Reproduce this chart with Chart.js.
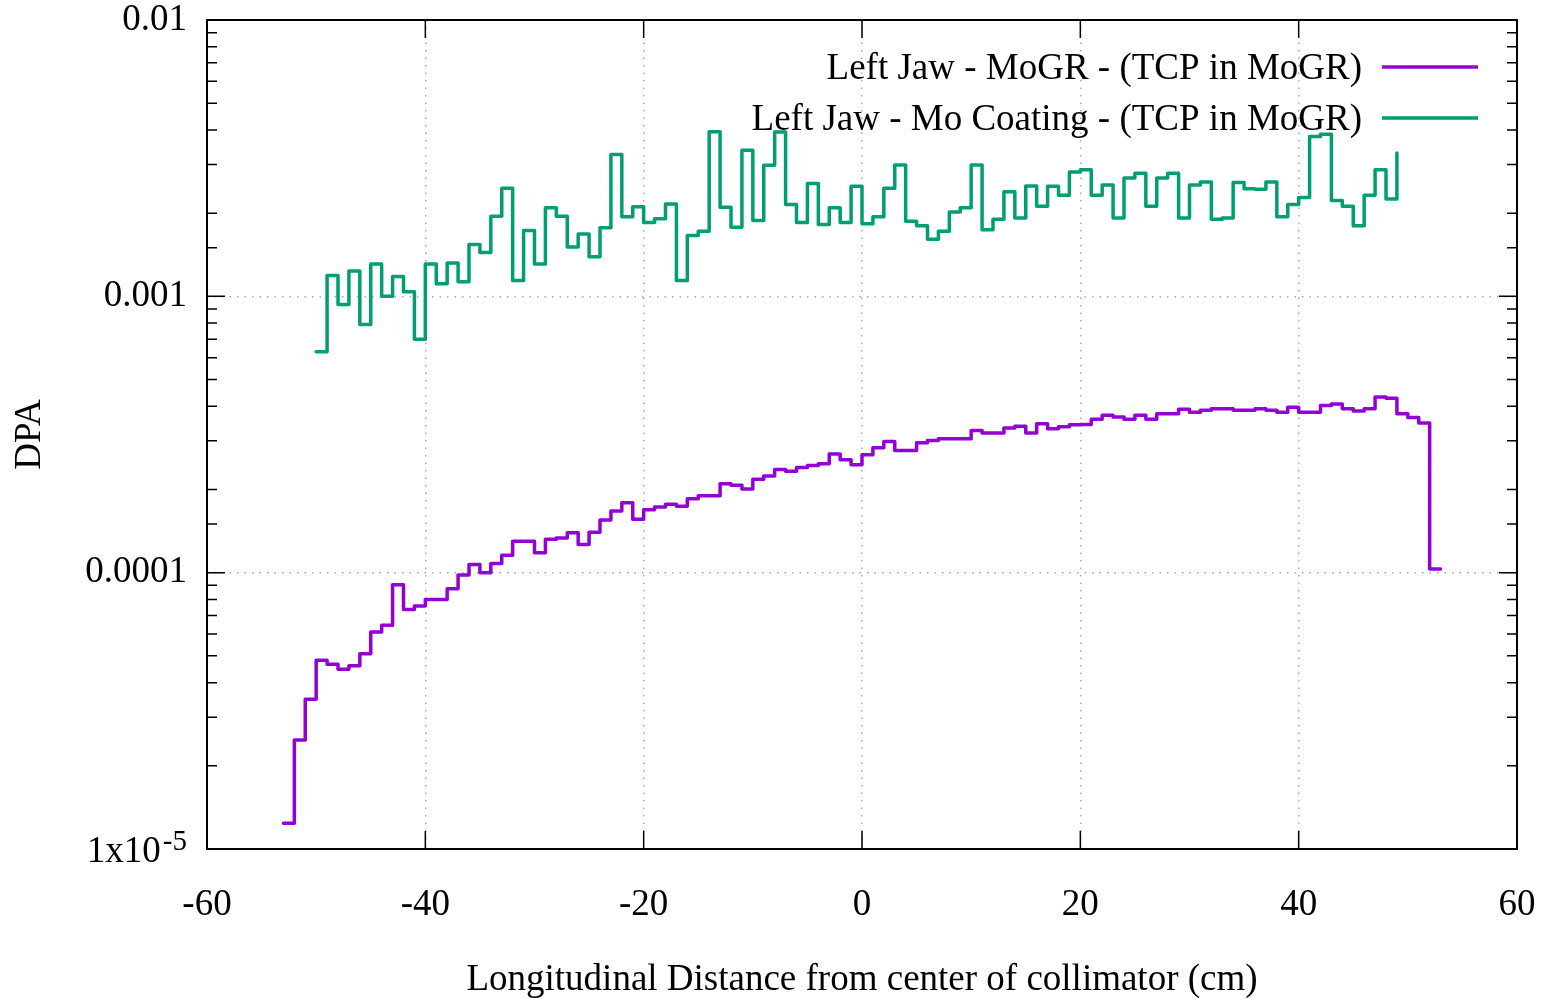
<!DOCTYPE html>
<html>
<head>
<meta charset="utf-8">
<title>DPA along collimator</title>
<script src="https://cdn.jsdelivr.net/npm/chart.js@4"></script>
<style>
  html, body { margin: 0; padding: 0; background: #fff; }
  #wrap { width: 1544px; height: 999px; }
</style>
</head>
<body>
<div id="wrap"><canvas id="dpaChart" width="1544" height="999"></canvas></div>
<script>
// Series labels
const seriesLabels = [
    'Left Jaw - MoGR - (TCP in MoGR)',
    'Left Jaw - Mo Coating - (TCP in MoGR)'
];

// 1 cm bins, first bin edge for each series
const mogrStart = -53;
const coatingStart = -50;

// DPA per bin, MoGR jaw (-53 .. 53 cm)
const mogrDpa = [
    1.24e-5, 2.48e-5, 3.48e-5, 4.82e-5, 4.66e-5, 4.47e-5, 4.6e-5, 5.09e-5, 6.1e-5, 6.45e-5,
    9.05e-5, 7.36e-5, 7.58e-5, 8.0e-5, 8.0e-5, 8.75e-5, 9.8e-5, 1.07e-4, 1.0e-4, 1.08e-4,
    1.155e-4, 1.30e-4, 1.30e-4, 1.18e-4, 1.32e-4, 1.335e-4, 1.395e-4, 1.265e-4, 1.40e-4, 1.55e-4,
    1.67e-4, 1.79e-4, 1.56e-4, 1.69e-4, 1.73e-4, 1.77e-4, 1.74e-4, 1.85e-4, 1.90e-4, 1.90e-4,
    2.10e-4, 2.07e-4, 2.01e-4, 2.18e-4, 2.24e-4, 2.36e-4, 2.33e-4, 2.40e-4, 2.44e-4, 2.48e-4,
    2.69e-4, 2.56e-4, 2.46e-4, 2.67e-4, 2.83e-4, 2.98e-4, 2.77e-4, 2.77e-4, 2.95e-4, 3.01e-4,
    3.05e-4, 3.05e-4, 3.05e-4, 3.27e-4, 3.20e-4, 3.20e-4, 3.34e-4, 3.39e-4, 3.20e-4, 3.46e-4,
    3.32e-4, 3.37e-4, 3.43e-4, 3.44e-4, 3.59e-4, 3.71e-4, 3.66e-4, 3.59e-4, 3.71e-4, 3.59e-4,
    3.76e-4, 3.76e-4, 3.90e-4, 3.81e-4, 3.87e-4, 3.92e-4, 3.92e-4, 3.87e-4, 3.87e-4, 3.92e-4,
    3.87e-4, 3.81e-4, 3.97e-4, 3.81e-4, 3.81e-4, 4.03e-4, 4.08e-4, 3.92e-4, 3.85e-4, 3.92e-4,
    4.32e-4, 4.28e-4, 3.76e-4, 3.64e-4, 3.48e-4, 1.03e-4, 1.03e-4
];

// DPA per bin, Mo coating (-50 .. 49 cm)
const coatingDpa = [
    0.00063, 0.00119, 0.000935, 0.001235, 0.00079, 0.00131, 0.0010, 0.00118, 0.00104, 0.00070,
    0.00131, 0.00111, 0.00132, 0.00113, 0.00154, 0.00144, 0.00195, 0.00246, 0.00114, 0.00173,
    0.00131, 0.00209, 0.00195, 0.00151, 0.00168, 0.00139, 0.00177, 0.00326, 0.00194, 0.00211,
    0.00185, 0.00191, 0.00216, 0.00114, 0.00166, 0.00172, 0.00394, 0.00210, 0.00178, 0.00338,
    0.00188, 0.00298, 0.00393, 0.00215, 0.00185, 0.00256, 0.00182, 0.00209, 0.00185, 0.00250,
    0.00183, 0.00194, 0.00246, 0.00299, 0.00187, 0.00180, 0.00161, 0.00172, 0.00202, 0.00209,
    0.00299, 0.00174, 0.00190, 0.00239, 0.00192, 0.00251, 0.00212, 0.00250, 0.00232, 0.00282,
    0.00287, 0.00232, 0.00253, 0.00192, 0.00268, 0.00279, 0.00212, 0.00268, 0.00279, 0.00192,
    0.00253, 0.00259, 0.00190, 0.00192, 0.00258, 0.00245, 0.00244, 0.00259, 0.00194, 0.00215,
    0.00228, 0.00379, 0.00386, 0.00222, 0.00212, 0.00180, 0.00232, 0.00287, 0.00225, 0.00330
];

// Axis ticks
const xTicks = [-60, -40, -20, 0, 20, 40, 60];
const yDecades = [0.01, 0.001, 0.0001, 0.00001];
const yDecadeLabels = ['0.01', '0.001', '0.0001', ''];

const FONT = "'Liberation Serif', 'DejaVu Serif', 'Times New Roman', serif";
const FONT_SIZE = 37;

function toPoints(start, values) {
    return values.map((v, i) => ({ x: start + i, y: v }));
}

function isDecade(v) {
    const l = Math.log10(v);
    return Math.abs(l - Math.round(l)) < 1e-6;
}

// keep the plot box where gnuplot put it
function noOverhang(scale) {
    scale.paddingTop = 0;
    scale.paddingBottom = 0;
    scale.paddingLeft = 0;
    scale.paddingRight = 0;
}

// frame, inward ticks, legend and the 1x10^-5 label, gnuplot style
const gnuplotBits = {
    id: 'gnuplotBits',
    afterDraw(chart) {
        const ctx = chart.ctx;
        const area = chart.chartArea;
        const xs = chart.scales.x;
        const ys = chart.scales.y;
        ctx.save();

        // ticks
        ctx.strokeStyle = '#000';
        ctx.lineWidth = 1.5;
        ctx.beginPath();
        xs.ticks.forEach(t => {
            const px = xs.getPixelForValue(t.value);
            ctx.moveTo(px, area.bottom);
            ctx.lineTo(px, area.bottom - 18);
            ctx.moveTo(px, area.top);
            ctx.lineTo(px, area.top + 18);
        });
        ys.ticks.forEach(t => {
            const py = ys.getPixelForValue(t.value);
            const len = isDecade(t.value) ? 18 : 10;
            ctx.moveTo(area.left, py);
            ctx.lineTo(area.left + len, py);
            ctx.moveTo(area.right, py);
            ctx.lineTo(area.right - len, py);
        });
        ctx.stroke();

        // frame
        ctx.lineWidth = 2;
        ctx.strokeRect(area.left, area.top, area.right - area.left, area.bottom - area.top);

        // legend inside top right
        ctx.font = FONT_SIZE + 'px ' + FONT;
        ctx.fillStyle = '#000';
        ctx.textAlign = 'right';
        ctx.textBaseline = 'middle';
        chart.data.datasets.forEach((ds, i) => {
            const y = area.top + 49 + i * 51;
            ctx.fillText(ds.label, area.right - 155, y);
            ctx.strokeStyle = ds.borderColor;
            ctx.lineWidth = 3.5;
            ctx.beginPath();
            ctx.moveTo(area.right - 135, y - 2);
            ctx.lineTo(area.right - 39, y - 2);
            ctx.stroke();
        });

        // bottom decade label with exponent
        const py = ys.getPixelForValue(yDecades[3]);
        const rightEdge = area.left - 20;
        ctx.font = '29px ' + FONT;
        const supW = ctx.measureText('-5').width;
        ctx.textAlign = 'left';
        ctx.textBaseline = 'alphabetic';
        ctx.fillText('-5', rightEdge - supW, py + 1);
        ctx.font = FONT_SIZE + 'px ' + FONT;
        ctx.textAlign = 'right';
        ctx.textBaseline = 'middle';
        ctx.fillText('1x10', rightEdge - supW - 2, py + 3);

        ctx.restore();
    }
};

const ctx = document.getElementById('dpaChart').getContext('2d');

const lineStyle = {
    borderWidth: 3.5,
    pointRadius: 0,
    stepped: 'before',
    fill: false,
    borderJoinStyle: 'round',
    borderCapStyle: 'round'
};

new Chart(ctx, {
    type: 'line',
    data: {
        datasets: [
            Object.assign({
                label: seriesLabels[0],
                data: toPoints(mogrStart, mogrDpa),
                borderColor: '#9400d3'
            }, lineStyle),
            Object.assign({
                label: seriesLabels[1],
                data: toPoints(coatingStart, coatingDpa),
                borderColor: '#009e73'
            }, lineStyle)
        ]
    },
    options: {
        responsive: false,
        animation: false,
        devicePixelRatio: 1,
        layout: { padding: { top: 20, right: 27, bottom: 0, left: 0 } },
        plugins: {
            legend: { display: false },
            tooltip: { enabled: false }
        },
        scales: {
            x: {
                type: 'linear',
                min: xTicks[0],
                max: xTicks[xTicks.length - 1],
                afterBuildTicks: scale => {
                    scale.ticks = xTicks.map(v => ({ value: v }));
                },
                afterFit: scale => { scale.height = 150; noOverhang(scale); },
                ticks: {
                    color: '#000',
                    font: { family: FONT, size: FONT_SIZE },
                    padding: 34,
                    maxRotation: 0
                },
                grid: {
                    drawTicks: false,
                    color: c => (c.tick && (c.tick.value === xTicks[0] || c.tick.value === xTicks[xTicks.length - 1])) ? 'rgba(0,0,0,0)' : '#a8a8a8',
                    lineWidth: 1.5
                },
                border: { display: false, dash: [1.5, 6] },
                title: {
                    display: true,
                    text: 'Longitudinal Distance from center of collimator (cm)',
                    color: '#000',
                    font: { family: FONT, size: FONT_SIZE },
                    padding: { top: 0, bottom: -3 }
                }
            },
            y: {
                type: 'logarithmic',
                min: yDecades[3],
                max: yDecades[0],
                afterFit: scale => { scale.width = 207; noOverhang(scale); },
                ticks: {
                    autoSkip: false,
                    color: '#000',
                    font: { family: FONT, size: FONT_SIZE },
                    padding: 20,
                    callback: function (v) {
                        const idx = yDecades.findIndex(d => Math.abs(d - v) / d < 1e-6);
                        return idx >= 0 ? yDecadeLabels[idx] : '';
                    }
                },
                grid: {
                    drawTicks: false,
                    color: c => (c.tick && isDecade(c.tick.value) && c.tick.value !== yDecades[0] && c.tick.value !== yDecades[3]) ? '#a8a8a8' : 'rgba(0,0,0,0)',
                    lineWidth: 1.5
                },
                border: { display: false, dash: [1.5, 6] },
                title: {
                    display: true,
                    text: 'DPA',
                    color: '#000',
                    font: { family: FONT, size: FONT_SIZE },
                    padding: { top: 8, bottom: 0 }
                }
            }
        }
    },
    plugins: [gnuplotBits]
});
</script>
</body>
</html>
